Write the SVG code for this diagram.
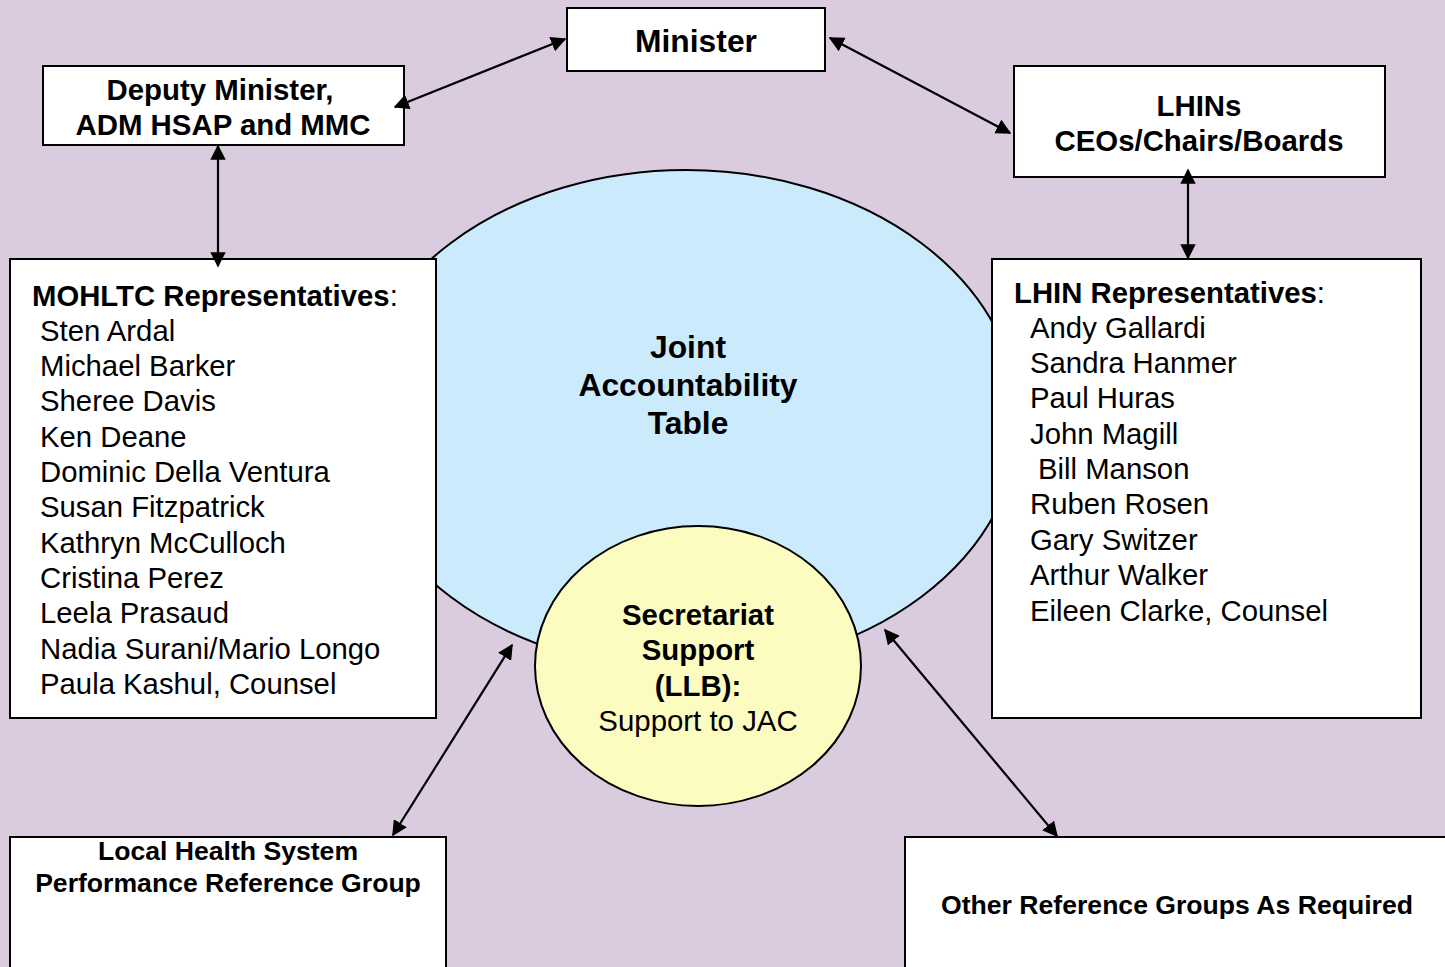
<svg xmlns="http://www.w3.org/2000/svg" width="1445" height="967" viewBox="0 0 1445 967">
<style>
.box{fill:#fff;stroke:#000;stroke-width:2}
.t{font-family:"Liberation Sans",Arial,sans-serif;fill:#000}
.b{font-weight:bold}
.c{text-anchor:middle}
.con{stroke:#000;stroke-width:2.2;fill:none;marker-start:url(#ah);marker-end:url(#ah)}
</style>
<defs>
<marker id="ah" viewBox="0 0 10 10" refX="9" refY="5" markerWidth="7" markerHeight="7" markerUnits="strokeWidth" orient="auto-start-reverse">
<path d="M0,0 L10,5 L0,10 z" fill="#000"/>
</marker>
</defs>
<rect x="0" y="0" width="1445" height="967" fill="#dacbdf"/>
<g id="jat">
<ellipse cx="686" cy="420" rx="333" ry="250" fill="#cbebfd" stroke="#000" stroke-width="2"/>
<text class="t b c" font-size="31.8" x="688" y="358">Joint</text>
<text class="t b c" font-size="31.8" x="688" y="396">Accountability</text>
<text class="t b c" font-size="31.8" x="688" y="434">Table</text>
</g>
<g id="minister">
<rect class="box" x="567" y="8" width="258" height="63"/>
<text class="t b c" font-size="31.8" x="696" y="52">Minister</text>
</g>
<g id="deputy">
<rect class="box" x="43" y="66" width="361" height="79"/>
<text class="t b c" font-size="29.4" x="220" y="100">Deputy Minister,</text>
<text class="t b c" font-size="29.4" x="223" y="135">ADM HSAP and MMC</text>
</g>
<g id="lhins">
<rect class="box" x="1014" y="66" width="371" height="111"/>
<text class="t b c" font-size="29.4" x="1199" y="116">LHINs</text>
<text class="t b c" font-size="29.4" x="1199" y="151">CEOs/Chairs/Boards</text>
</g>
<g id="mohltc">
<rect class="box" x="10" y="259" width="426" height="459"/>
<text class="t" font-size="29.3" x="32" y="306"><tspan font-weight="bold">MOHLTC Representatives</tspan>:</text>
<g class="t" font-size="29.3">
<text x="40" y="341">Sten Ardal</text>
<text x="40" y="376">Michael Barker</text>
<text x="40" y="411">Sheree Davis</text>
<text x="40" y="447">Ken Deane</text>
<text x="40" y="482">Dominic Della Ventura</text>
<text x="40" y="517">Susan Fitzpatrick</text>
<text x="40" y="553">Kathryn McCulloch</text>
<text x="40" y="588">Cristina Perez</text>
<text x="40" y="623">Leela Prasaud</text>
<text x="40" y="659">Nadia Surani/Mario Longo</text>
<text x="40" y="694">Paula Kashul, Counsel</text>
</g>
</g>
<g id="lhinreps">
<rect class="box" x="992" y="259" width="429" height="459"/>
<text class="t" font-size="29.3" x="1014" y="303"><tspan font-weight="bold">LHIN Representatives</tspan>:</text>
<g class="t" font-size="29.3">
<text x="1030" y="338">Andy Gallardi</text>
<text x="1030" y="373">Sandra Hanmer</text>
<text x="1030" y="408">Paul Huras</text>
<text x="1030" y="444">John Magill</text>
<text x="1038" y="479">Bill Manson</text>
<text x="1030" y="514">Ruben Rosen</text>
<text x="1030" y="550">Gary Switzer</text>
<text x="1030" y="585">Arthur Walker</text>
<text x="1030" y="621">Eileen Clarke, Counsel</text>
</g>
</g>
<g id="secretariat">
<ellipse cx="698" cy="666" rx="163" ry="140" fill="#fcfcc0" stroke="#000" stroke-width="2"/>
<text class="t b c" font-size="29.4" x="698" y="625">Secretariat</text>
<text class="t b c" font-size="29.4" x="698" y="660">Support</text>
<text class="t b c" font-size="29.4" x="698" y="696">(LLB):</text>
<text class="t c" font-size="29.4" x="698" y="731">Support to JAC</text>
</g>
<g id="localhealth">
<rect class="box" x="10" y="837" width="436" height="140"/>
<text class="t b c" font-size="26.6" x="228" y="860">Local Health System</text>
<text class="t b c" font-size="26.6" x="228" y="892">Performance Reference Group</text>
</g>
<g id="other">
<rect class="box" x="905" y="837" width="550" height="140"/>
<text class="t b c" font-size="26.6" x="1177" y="914">Other Reference Groups As Required</text>
</g>
<g id="connectors">
<line class="con" x1="395" y1="107" x2="565" y2="39"/>
<line class="con" x1="830" y1="38" x2="1010" y2="133"/>
<line class="con" x1="218" y1="146" x2="218" y2="266"/>
<line class="con" x1="1188" y1="170" x2="1188" y2="258"/>
<line class="con" x1="512" y1="645" x2="393" y2="835"/>
<line class="con" x1="885" y1="630" x2="1057" y2="836"/>
</g>
</svg>
